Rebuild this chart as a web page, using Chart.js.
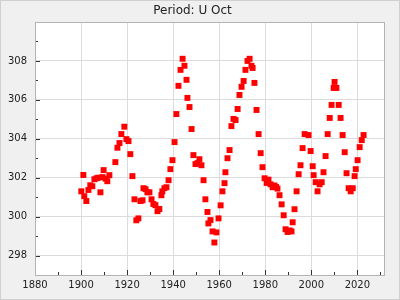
<!DOCTYPE html>
<html>
<head>
<meta charset="utf-8">
<script src="https://cdn.jsdelivr.net/npm/chart.js@4"></script>
<style>
  html, body { margin: 0; padding: 0; background: #f0f0f0; }
  canvas { display: block; }
</style>
</head>
<body>
<canvas id="chart" width="400" height="300"></canvas>
<script>
const years = [
  1900.1, 1901.0, 1901.4, 1902.3, 1903.2, 1904.0, 1904.9, 1905.8, 1906.7, 1907.5,
  1908.4, 1909.3, 1909.8, 1910.6, 1911.4, 1912.3, 1914.9, 1915.8, 1916.7, 1917.5,
  1918.8, 1919.7, 1920.6, 1921.4, 1922.3, 1923.2, 1924.0, 1924.9, 1925.8, 1926.7,
  1927.1, 1928.0, 1928.8, 1929.7, 1930.6, 1931.4, 1932.3, 1933.2, 1934.0, 1934.9,
  1935.3, 1936.2, 1937.1, 1938.0, 1938.8, 1939.7, 1940.6, 1941.4, 1942.3, 1943.2,
  1944.1, 1944.9, 1945.8, 1946.2, 1947.1, 1948.0, 1948.8, 1949.7, 1950.6, 1951.4,
  1952.3, 1953.2, 1954.0, 1954.9, 1955.3, 1956.2, 1957.1, 1957.9, 1958.8, 1959.7,
  1960.6, 1961.4, 1962.3, 1962.7, 1963.6, 1964.5, 1965.3, 1966.2, 1967.1, 1968.0,
  1968.8, 1969.7, 1970.6, 1971.4, 1972.3, 1973.2, 1974.0, 1974.5, 1975.3, 1976.2,
  1977.1, 1978.0, 1978.8, 1979.7, 1980.6, 1981.4, 1982.3, 1983.2, 1984.0, 1984.7,
  1985.3, 1986.2, 1987.1, 1988.0, 1988.8, 1989.7, 1990.6, 1991.4, 1991.9, 1992.7,
  1993.6, 1994.5, 1995.3, 1996.2, 1997.1, 1998.8, 1999.7, 2000.6, 2001.0, 2001.9,
  2002.7, 2003.6, 2004.5, 2005.3, 2006.2, 2007.1, 2008.0, 2008.8, 2009.7, 2010.1,
  2010.9, 2011.9, 2012.7, 2013.6, 2014.5, 2015.3, 2016.2, 2017.1, 2018.0, 2018.8,
  2019.3, 2020.1, 2021.0, 2021.9, 2022.7
];
const values = [
  301.30, 302.14, 301.05, 300.80, 301.37, 301.61, 301.56, 301.92, 301.97, 302.00,
  301.25, 302.03, 302.39, 301.95, 301.82, 302.13, 302.80, 303.54, 303.78, 304.24,
  304.62, 303.98, 303.88, 303.21, 302.08, 300.89, 299.81, 299.91, 300.80, 300.84,
  301.46, 301.41, 301.25, 301.25, 300.89, 300.65, 300.59, 300.28, 300.39, 301.10,
  301.30, 301.46, 301.51, 301.87, 302.44, 302.90, 303.83, 305.27, 306.72, 307.54,
  308.11, 307.75, 307.03, 306.10, 305.63, 304.50, 303.16, 302.70, 302.75, 302.95,
  302.64, 301.87, 300.89, 300.24, 299.65, 299.82, 299.24, 298.67, 299.19, 299.91,
  300.58, 301.30, 301.72, 302.28, 303.00, 303.42, 304.65, 305.02, 304.96, 305.53,
  306.25, 306.67, 306.97, 307.54, 308.00, 308.11, 307.75, 307.64, 306.87, 305.48,
  304.24, 303.26, 302.54, 301.97, 301.73, 301.90, 301.66, 301.51, 301.60, 301.52,
  301.44, 301.10, 300.63, 300.07, 299.35, 299.21, 299.29, 299.24, 299.71, 300.38,
  301.30, 302.18, 302.64, 303.52, 304.24, 304.19, 303.37, 302.59, 302.13, 301.77,
  301.30, 301.66, 301.77, 302.28, 303.11, 304.24, 305.07, 305.74, 306.61, 306.92,
  306.61, 305.74, 305.07, 304.19, 303.31, 302.23, 301.46, 301.30, 301.46, 302.08,
  302.44, 302.90, 303.57, 303.93, 304.19
];

const xTickLabels = [1880, 1900, 1920, 1940, 1960, 1980, 2000, 2020];
const yTickLabels = [298, 300, 302, 304, 306, 308];

const points = years.map((x, i) => ({ x: x, y: values[i] }));

// grey page, white plot panel, border and inward tick marks
const panelPlugin = {
  id: 'panel',
  beforeDraw(chart) {
    const { ctx, chartArea: a } = chart;
    ctx.save();
    ctx.fillStyle = '#f0f0f0';
    ctx.fillRect(0, 0, chart.width, chart.height);
    ctx.fillStyle = '#ffffff';
    ctx.fillRect(a.left, a.top, a.right - a.left, a.bottom - a.top);
    ctx.restore();
  },
  afterDraw(chart) {
    const { ctx, chartArea: a } = chart;
    const xs = chart.scales.x, ys = chart.scales.y;
    ctx.save();
    ctx.strokeStyle = '#333';
    ctx.lineWidth = 1;
    ctx.beginPath();
    for (let v = 1880; v <= 2030; v += 10) {
      const px = Math.round(xs.getPixelForValue(v)) + 0.5;
      const len = v % 20 === 0 ? 5 : 3;
      ctx.moveTo(px, a.bottom);
      ctx.lineTo(px, a.bottom - len);
    }
    for (let v = 297; v <= 310; v += 1) {
      const py = Math.round(ys.getPixelForValue(v)) + 0.5;
      const len = v % 2 === 0 ? 5 : 3;
      ctx.moveTo(a.left, py);
      ctx.lineTo(a.left + len, py);
    }
    ctx.stroke();
    ctx.strokeStyle = '#b4b4b4';
    ctx.strokeRect(a.left + 0.5, a.top + 0.5, a.right - a.left - 1, a.bottom - a.top);
    ctx.strokeStyle = '#d0d0d0';
    ctx.strokeRect(0.5, 0.5, chart.width - 1, chart.height - 1);
    ctx.restore();
  }
};

new Chart(document.getElementById('chart').getContext('2d'), {
  type: 'scatter',
  data: {
    datasets: [{
      data: points,
      pointStyle: 'rect',
      pointRadius: 4.2,
      pointBorderWidth: 0,
      backgroundColor: '#ff0000',
      borderColor: '#ff0000'
    }]
  },
  options: {
    responsive: false,
    animation: false,
    layout: { padding: { left: 0, right: 15, top: 0, bottom: 0 } },
    plugins: {
      legend: { display: false },
      tooltip: { enabled: false },
      title: {
        display: true,
        text: 'Period: U Oct',
        color: '#222',
        font: { family: 'DejaVu Sans', size: 12, weight: 'normal' },
        padding: { top: 4, bottom: 3.6 }
      }
    },
    scales: {
      x: {
        type: 'linear',
        min: 1880,
        max: 2032,
        afterFit(scale) { scale.height = 25; },
        border: { display: false },
        grid: {
          drawTicks: false,
          borderDash: [4, 3],
          color: ctx => (ctx.tick && xTickLabels.includes(ctx.tick.value) && ctx.tick.value !== 1880) ? '#dcdcdc' : 'rgba(0,0,0,0)'
        },
        ticks: {
          stepSize: 10,
          includeBounds: false,
          autoSkip: false,
          maxRotation: 0,
          padding: 4,
          color: '#222',
          font: { family: 'DejaVu Sans', size: 10 },
          callback: v => xTickLabels.includes(v) ? String(v) : ''
        }
      },
      y: {
        min: 297,
        max: 310,
        afterFit(scale) { scale.width = 35; },
        border: { display: false },
        grid: {
          drawTicks: false,
          color: ctx => (ctx.tick && yTickLabels.includes(ctx.tick.value)) ? '#dcdcdc' : 'rgba(0,0,0,0)'
        },
        ticks: {
          stepSize: 1,
          autoSkip: false,
          padding: 8,
          color: '#222',
          font: { family: 'DejaVu Sans', size: 10 },
          callback: v => yTickLabels.includes(v) ? String(v) : ''
        }
      }
    }
  },
  plugins: [panelPlugin]
});
</script>
</body>
</html>
